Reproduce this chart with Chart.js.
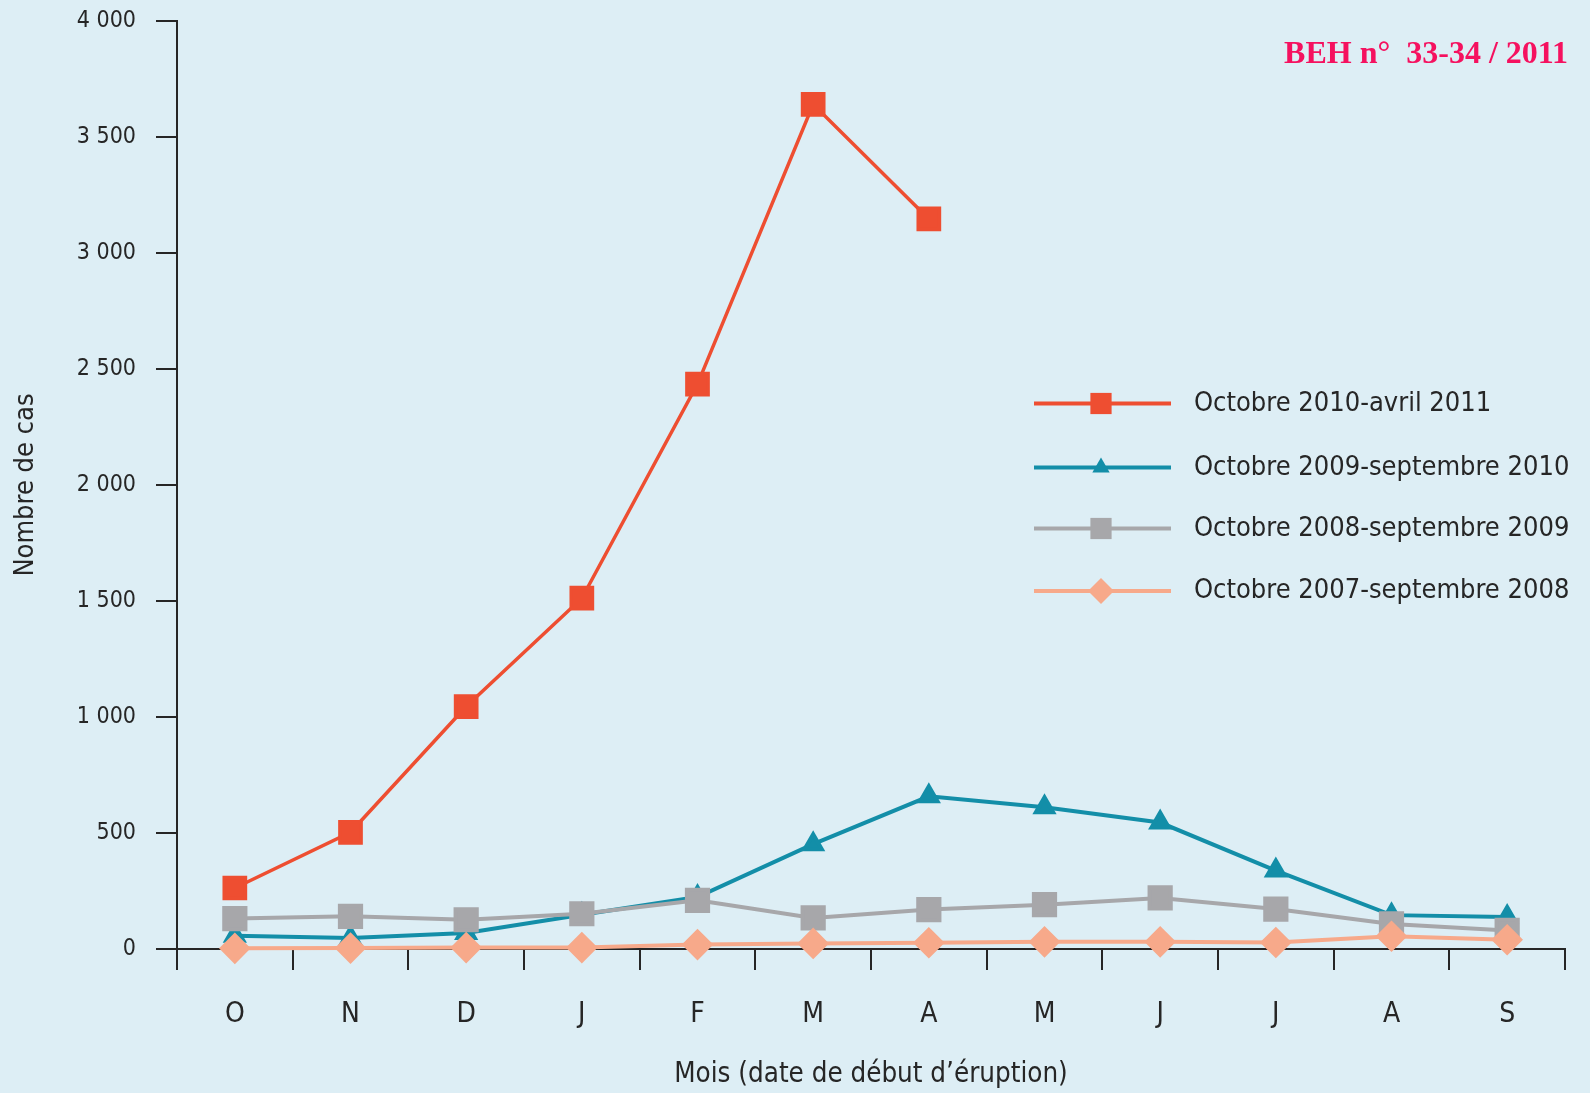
<!DOCTYPE html>
<html>
<head>
<meta charset="utf-8">
<script src="https://cdn.jsdelivr.net/npm/chart.js@4.4.1/dist/chart.umd.min.js"></script>
<style>
  html, body { margin: 0; padding: 0; background: #ddeef5; }
  #wrap { position: relative; width: 1590px; height: 1093px; }
</style>
</head>
<body>
<div id="wrap"><canvas id="myChart" width="1590" height="1093"></canvas></div>
<script>
// data
const months = ['O', 'N', 'D', 'J', 'F', 'M', 'A', 'M', 'J', 'J', 'A', 'S'];
const seriesNames = [
  'Octobre 2010-avril 2011',
  'Octobre 2009-septembre 2010',
  'Octobre 2008-septembre 2009',
  'Octobre 2007-septembre 2008'
];
const cases2010 = [263, 503, 1045, 1512, 2435, 3641, 3147, null, null, null, null, null];
const cases2009 = [57, 47, 69, 148, 224, 452, 658, 611, 545, 338, 146, 138];
const cases2008 = [131, 141, 126, 152, 210, 134, 170, 191, 220, 172, 108, 80];
const cases2007 = [3, 4, 6, 6, 19, 24, 27, 31, 31, 28, 55, 40];
const yMax = 4000;
const yStep = 500;

const FONT = "'Liberation Sans Narrow', 'DejaVu Sans Condensed', 'Open Sans', sans-serif";
const INK = '#262626';

const red = '#ee4e31';
const teal = '#138ea8';
const grey = '#a7a7aa';
const peach = '#f7a98a';

function fmt(v) {
  return String(v).replace(/\B(?=(\d{3})+(?!\d))/g, ' ');
}

// marker drawing for the hand made legend
function marker(ctx, style, x, y, r, color) {
  ctx.fillStyle = color;
  ctx.beginPath();
  if (style === 'rect') {
    const s = r * Math.SQRT1_2;
    ctx.rect(x - s, y - s, 2 * s, 2 * s);
  } else if (style === 'triangle') {
    ctx.moveTo(x, y - r);
    ctx.lineTo(x + r * 0.866, y + r * 0.5);
    ctx.lineTo(x - r * 0.866, y + r * 0.5);
    ctx.closePath();
  } else {
    ctx.moveTo(x - r, y);
    ctx.lineTo(x, y - r);
    ctx.lineTo(x + r, y);
    ctx.lineTo(x, y + r);
    ctx.closePath();
  }
  ctx.fill();
}

const bgPlugin = {
  id: 'bg',
  beforeDraw(chart) {
    const c = chart.ctx;
    c.save();
    c.fillStyle = '#ddeef5';
    c.fillRect(0, 0, chart.width, chart.height);
    c.restore();
  }
};

const legendPlugin = {
  id: 'sideLegend',
  afterDraw(chart) {
    const c = chart.ctx;
    const rows = [403.5, 467.5, 528.5, 591];
    c.save();
    chart.data.datasets.forEach(function (ds, i) {
      const y = rows[i];
      c.strokeStyle = ds.borderColor;
      c.lineWidth = 4;
      c.beginPath();
      c.moveTo(1034, y);
      c.lineTo(1171, y);
      c.stroke();
      marker(c, ds.pointStyle, 1101, y, ds.pointRadius, ds.borderColor);
      c.fillStyle = INK;
      c.font = '27px ' + FONT;
      c.textBaseline = 'middle';
      c.textAlign = 'left';
      c.fillText(ds.label, 1194, y);
    });
    // journal reference in the corner
    c.fillStyle = '#f5115f';
    c.font = 'bold 32px "Liberation Serif", "DejaVu Serif", serif';
    c.textAlign = 'right';
    c.textBaseline = 'middle';
    c.fillText('BEH n°  33-34 / 2011', 1568, 55);
    c.restore();
  }
};

const data = {
  labels: months,
  datasets: [{
    label: seriesNames[0],
    data: cases2010,
    borderColor: red,
    backgroundColor: red,
    borderWidth: 3.5,
    pointStyle: 'rect',
    pointRadius: 15,
    clip: false,
    order: 0
  }, {
    label: seriesNames[1],
    data: cases2009,
    borderColor: teal,
    backgroundColor: teal,
    borderWidth: 4,
    pointStyle: 'triangle',
    pointRadius: 10,
    clip: false,
    order: 3
  }, {
    label: seriesNames[2],
    data: cases2008,
    borderColor: grey,
    backgroundColor: grey,
    borderWidth: 4,
    pointStyle: 'rect',
    pointRadius: 15,
    clip: false,
    order: 2
  }, {
    label: seriesNames[3],
    data: cases2007,
    borderColor: peach,
    backgroundColor: peach,
    borderWidth: 4,
    pointStyle: 'rectRot',
    pointRadius: 13,
    clip: false,
    order: 1
  }]
};

const config = {
  type: 'line',
  data: data,
  plugins: [bgPlugin, legendPlugin],
  options: {
    responsive: false,
    animation: false,
    devicePixelRatio: 1,
    layout: { autoPadding: false, padding: { top: 21, right: 25, left: 0, bottom: 0 } },
    elements: {
      line: { tension: 0, fill: false },
      point: { borderWidth: 0, hoverRadius: 15 }
    },
    plugins: {
      legend: { display: false },
      tooltip: { enabled: false }
    },
    scales: {
      x: {
        offset: true,
        grid: {
          offset: true,
          drawOnChartArea: false,
          drawTicks: true,
          tickLength: 21,
          color: INK,
          lineWidth: 2
        },
        border: { display: true, color: INK, width: 2 },
        ticks: {
          color: INK,
          padding: 28,
          maxRotation: 0,
          font: { family: FONT, size: 28 }
        },
        title: {
          display: true,
          text: 'Mois (date de début d\u2019éruption)',
          color: INK,
          font: { family: FONT, size: 27.5 },
          padding: { top: 0, bottom: 2 }
        },
        afterFit(scale) { scale.height = 144; }
      },
      y: {
        min: 0,
        max: yMax,
        grid: {
          drawOnChartArea: false,
          drawTicks: true,
          tickLength: 21,
          color: INK,
          lineWidth: 2
        },
        border: { display: true, color: INK, width: 2 },
        ticks: {
          stepSize: yStep,
          color: INK,
          padding: 20,
          font: { family: FONT, size: 23 },
          callback: function (v) { return fmt(v); }
        },
        title: {
          display: true,
          text: 'Nombre de cas',
          color: INK,
          font: { family: FONT, size: 27 },
          padding: { top: 10, bottom: 0 }
        },
        afterFit(scale) {
          scale.width = 177;
          scale.paddingTop = 0;
          scale.paddingBottom = 0;
        }
      }
    }
  }
};

var myChart = new Chart(document.getElementById('myChart'), config);
</script>
</body>
</html>
